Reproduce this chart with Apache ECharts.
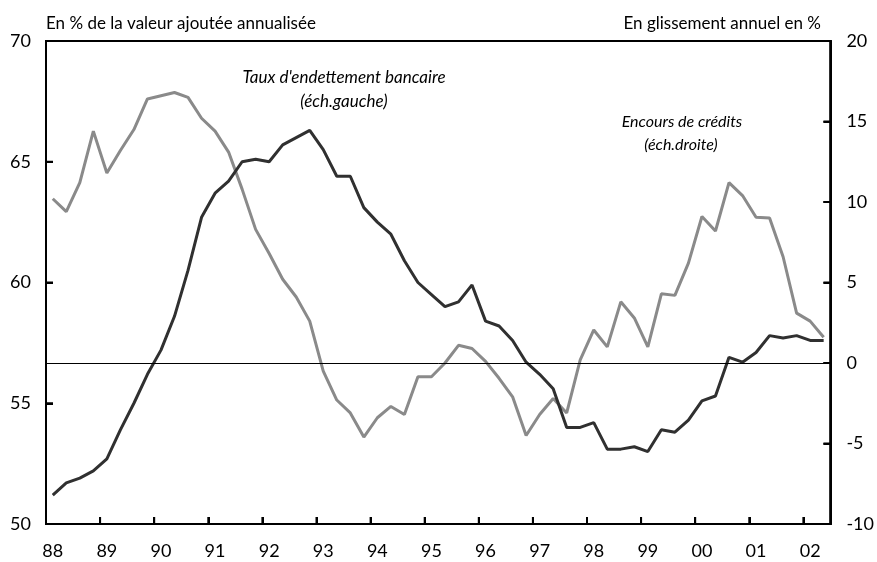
<!DOCTYPE html>
<html>
<head>
<meta charset="utf-8">
<script src="https://cdn.jsdelivr.net/npm/echarts@6/dist/echarts.min.js"></script>
<style>
  html, body { margin: 0; padding: 0; background: #fff; }
  #chart { width: 877px; height: 562px; }
</style>
</head>
<body>
<div id="chart"></div>
<script>
// années affichées sur l'axe (un trimestre = une catégorie)
var years = ['88', '89', '90', '91', '92', '93', '94', '95', '96', '97', '98', '99', '00', '01', '02'];
var quarters = ['T1', 'T2', 'T3', 'T4'];
// 88T1 -> 02T2
var categories = [];
years.forEach(function (y) {
  quarters.forEach(function (q) { categories.push(y + q); });
});
categories = categories.slice(0, 58);

// Taux d'endettement bancaire (éch. gauche, en % de la VA)
var tauxEndettement = [
  51.2, 51.7, 51.9, 52.2, 52.7, 53.9, 55.0, 56.2, 57.2, 58.6,
  60.5, 62.7, 63.7, 64.2, 65.0, 65.1, 65.0, 65.7, 66.0, 66.3,
  65.5, 64.4, 64.4, 63.1, 62.5, 62.0, 60.9, 60.0, 59.5, 59.0,
  59.2, 59.9, 58.4, 58.2, 57.6, 56.7, 56.2, 55.6, 54.0, 54.0,
  54.2, 53.1, 53.1, 53.2, 53.0, 53.9, 53.8, 54.3, 55.1, 55.3,
  56.9, 56.7, 57.1, 57.8, 57.7, 57.8, 57.6, 57.6
];

// Encours de crédits (éch. droite, glissement annuel en %)
var encoursCredits = [
  10.2, 9.4, 11.2, 14.4, 11.8, 13.2, 14.5, 16.4, 16.6, 16.8,
  16.5, 15.2, 14.4, 13.1, 10.8, 8.3, 6.8, 5.2, 4.1, 2.6,
  -0.5, -2.3, -3.1, -4.6, -3.4, -2.7, -3.2, -0.85, -0.85, 0.0,
  1.1, 0.9, 0.1, -0.95, -2.1, -4.5, -3.2, -2.2, -3.1, 0.2,
  2.05, 1.0, 3.8, 2.8, 1.0, 4.3, 4.2, 6.2, 9.1, 8.2,
  11.2, 10.4, 9.05, 9.0, 6.6, 3.1, 2.6, 1.6
];

// graduations
var leftTicks = [55, 60, 65];
var rightTicks = [-5, 0, 5, 10, 15];

var font = 'Lato';
var myChart = echarts.init(document.getElementById('chart'));

function note(text, x, y, size) {
  return {
    type: 'text', x: x, y: y, silent: true, z: 100,
    style: {
      text: text, font: 'italic ' + size + 'px ' + font, fill: '#000',
      align: 'center', verticalAlign: 'middle'
    }
  };
}
// petit rectangle plein (trait du cadre ou graduation)
function bar(x, y, w, h) {
  return {
    type: 'rect', silent: true, z: 100,
    shape: { x: x, y: y, width: w, height: h },
    style: { fill: '#000' }
  };
}

var option = {
  backgroundColor: '#fff',
  animation: false,
  grid: {
    left: 46, right: 45, top: 41, bottom: 38,
    show: true, borderColor: '#000', borderWidth: 2
  },
  title: [
    {
      text: 'En % de la valeur ajoutée annualisée',
      left: 41, top: 10,
      textStyle: { fontFamily: font, fontSize: 17, fontWeight: 'normal', color: '#000' }
    },
    {
      text: 'En glissement annuel en %',
      right: 51, top: 10,
      textStyle: { fontFamily: font, fontSize: 17, fontWeight: 'normal', color: '#000' }
    }
  ],
  xAxis: {
    type: 'category',
    data: categories,
    boundaryGap: true,
    axisLine: { show: true, onZero: false, lineStyle: { color: '#000', width: 2 } },
    axisTick: { show: true, inside: true, length: 7, interval: 3, lineStyle: { color: '#000', width: 2 } },
    axisLabel: {
      interval: 3, margin: 18, fontSize: 18, color: '#000', fontFamily: font,
      formatter: function (v) { return v.slice(0, 2); }
    },
    splitLine: { show: false }
  },
  yAxis: [
    {
      type: 'value', min: 50, max: 70, interval: 5, position: 'left',
      axisLine: { show: true, lineStyle: { color: '#000', width: 2 } },
      axisTick: { show: true, inside: true, length: 7, lineStyle: { color: '#000', width: 2 } },
      axisLabel: { margin: 15, fontSize: 18, color: '#000', fontFamily: font },
      splitLine: { show: false }
    },
    {
      type: 'value', min: -10, max: 20, interval: 5, position: 'right',
      axisLine: { show: true, lineStyle: { color: '#000', width: 2 } },
      axisTick: { show: true, inside: true, length: 7, lineStyle: { color: '#000', width: 2 } },
      axisLabel: { margin: 16, fontSize: 18, color: '#000', fontFamily: font },
      splitLine: { show: false }
    }
  ],
  series: [
    {
      name: 'Encours de crédits',
      type: 'line',
      yAxisIndex: 1,
      data: encoursCredits,
      symbol: 'none',
      lineStyle: { color: '#8a8a8a', width: 3 },
      markLine: {
        silent: true, symbol: 'none', label: { show: false },
        lineStyle: { color: '#000', width: 1, type: 'solid' },
        data: [{ yAxis: 0 }]
      }
    },
    {
      name: "Taux d'endettement bancaire",
      type: 'line',
      yAxisIndex: 0,
      data: tauxEndettement,
      symbol: 'none',
      lineStyle: { color: '#303030', width: 3 }
    }
  ]
};
myChart.setOption(option);

// cadre et graduations en renfort, placés avec les échelles de la librairie
var c0 = Number(myChart.convertToPixel({ xAxisIndex: 0 }, 0));
var c1 = Number(myChart.convertToPixel({ xAxisIndex: 0 }, 1));
var band = c1 - c0;
var x0 = c0 - band / 2;
var x1 = x0 + band * categories.length;
var yTop = Number(myChart.convertToPixel({ yAxisIndex: 0 }, 70));
var yBot = Number(myChart.convertToPixel({ yAxisIndex: 0 }, 50));
var tl = 7, lw = 2;
var els = [
  note("Taux d'endettement bancaire", 344, 78, 17),
  note('(éch.gauche)', 344, 102, 17),
  note('Encours de crédits', 682, 122, 16),
  note('(éch.droite)', 681, 145, 16)
];
if (isFinite(x0) && isFinite(x1) && isFinite(yTop) && isFinite(yBot)) {
  els.push(bar(x0 - lw / 2, yTop - lw / 2, x1 - x0 + lw, lw));
  els.push(bar(x0 - lw / 2, yBot - lw / 2, x1 - x0 + lw, lw));
  els.push(bar(x0 - lw / 2, yTop - lw / 2, lw, yBot - yTop + lw));
  els.push(bar(x1 - lw / 2, yTop - lw / 2, lw, yBot - yTop + lw));
  for (var i = 4; i < categories.length; i += 4) {
    var xt = x0 + band * i;
    els.push(bar(xt - 1, yBot - tl, 2, tl));
  }
  leftTicks.forEach(function (v) {
    var yy = myChart.convertToPixel({ yAxisIndex: 0 }, v);
    els.push(bar(x0, yy - 1, tl, 2));
  });
  rightTicks.forEach(function (v) {
    var yy = myChart.convertToPixel({ yAxisIndex: 1 }, v);
    els.push(bar(x1 - tl, yy - 1, tl, 2));
  });
}
myChart.setOption({ graphic: els });
</script>
</body>
</html>
